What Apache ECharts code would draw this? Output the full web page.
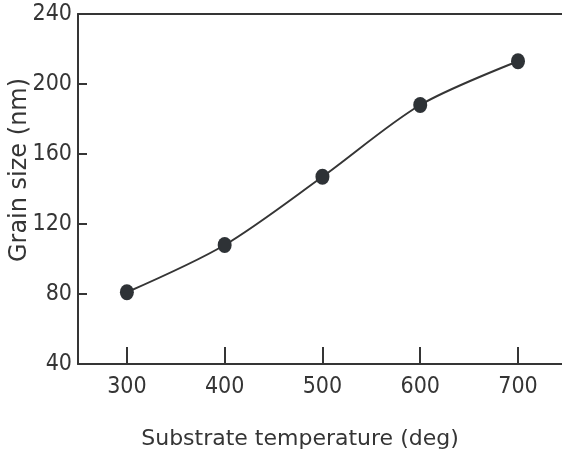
<!DOCTYPE html>
<html lang="en">
<head>
    <meta charset="UTF-8">
    <title>Grain size vs substrate temperature</title>
    <script type="text/javascript" src="https://cdn.jsdelivr.net/npm/echarts@6/dist/echarts.min.js"></script>
    <style>
        html, body { margin: 0; padding: 0; background: #fff; }
    </style>
</head>
<body>
<div id="chart" style="width: 562px;height:462px;"></div>

<script>
    // substrate temperature (deg)
    var temperature = [300, 400, 500, 600, 700];
    // grain size (nm)
    var grainSize = [81, 108, 147, 188, 213];
    var xTicks = [300, 400, 500, 600, 700];

    var ink = '#353535';
    var numFont = '"DejaVu Sans Condensed", sans-serif';
    var nameFont = '"DejaVu Sans", sans-serif';

    var points = [];
    for (var i = 0; i < temperature.length; i++) {
        points.push([temperature[i], grainSize[i]]);
    }

    var chart = echarts.init(document.getElementById('chart'));
    var option = {
        animation: false,
        grid: {left: 78, top: 14, right: 0, bottom: 98, outerBoundsMode: 'none', containLabel: false},
        xAxis: [{
            type: 'value',
            min: 250,
            max: 745,
            name: 'Substrate temperature (deg)',
            nameLocation: 'middle',
            nameGap: 64,
            nameMoveOverlap: false,
            nameTextStyle: {color: ink, fontSize: 22, fontFamily: nameFont, padding: [0, 40, 0, 0]},
            axisLine: {show: true, lineStyle: {color: ink, width: 2}},
            axisTick: {show: true, inside: true, length: 17, customValues: xTicks, lineStyle: {color: ink, width: 2}},
            axisLabel: {customValues: xTicks, color: ink, fontSize: 23, fontFamily: numFont, margin: 12},
            splitLine: {show: false}
        }, {
            // top border
            type: 'value',
            position: 'top',
            min: 250,
            max: 745,
            axisLine: {show: true, lineStyle: {color: ink, width: 2}},
            axisTick: {show: false},
            axisLabel: {show: false},
            splitLine: {show: false}
        }],
        yAxis: {
            type: 'value',
            min: 40,
            max: 240,
            interval: 40,
            name: 'Grain size (nm)',
            nameLocation: 'middle',
            nameGap: 46,
            nameMoveOverlap: false,
            nameTextStyle: {color: ink, fontSize: 24, fontFamily: nameFont, padding: [0, 0, 0, 38]},
            axisLine: {show: true, lineStyle: {color: ink, width: 2}},
            axisTick: {show: true, inside: true, length: 9, lineStyle: {color: ink, width: 2}},
            axisLabel: {color: ink, fontSize: 23, fontFamily: numFont, margin: 6},
            splitLine: {show: false}
        },
        series: [{
            type: 'line',
            data: points,
            smooth: 0.3,
            symbol: 'circle',
            symbolSize: [14, 16],
            itemStyle: {color: '#2e3236'},
            lineStyle: {color: ink, width: 2}
        }]
    };
    chart.setOption(option);
</script>
</body>
</html>
